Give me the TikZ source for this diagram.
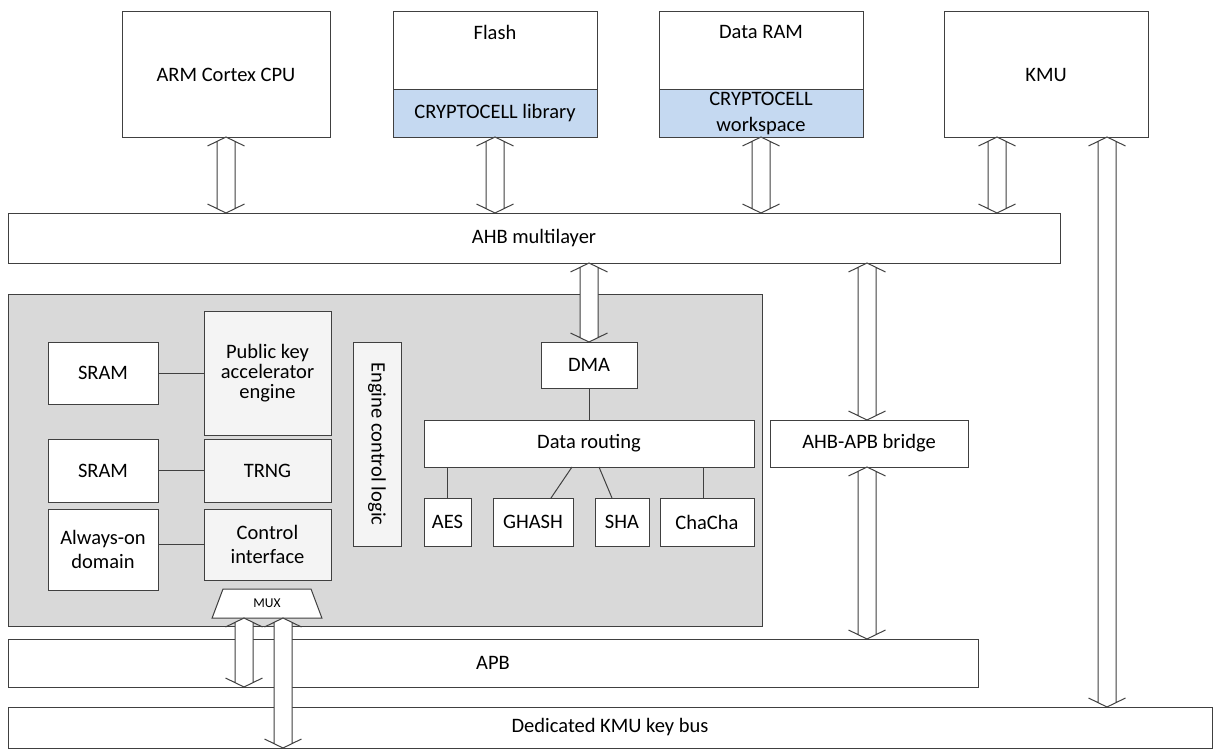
\documentclass[tikz,border=0pt]{standalone}
\usepackage{fontspec}
\setmainfont{Carlito}
\usetikzlibrary{shapes.geometric, calc}

\definecolor{cellblue}{HTML}{C5D9F1}
\definecolor{cellgray}{HTML}{D9D9D9}
\definecolor{enginefill}{HTML}{F4F4F4}
\definecolor{edge}{HTML}{404040}

% 空心双向总线箭头: #1 = x, #2 = 起点, #3 = 终点
\newcommand{\busarrow}[3]{%
  \fill[white] let \p1=(#1,0 |- #2), \p2=(#1,0 |- #3) in
    (\x1-9pt,\y1-4.4pt) -- (\x1,\y1) -- (\x1+9pt,\y1-4.4pt)
    -- (\x1+9pt,\y2+4.4pt) -- (\x1,\y2) -- (\x1-9pt,\y2+4.4pt) -- cycle;
  \draw[busline] let \p1=(#1,0 |- #2), \p2=(#1,0 |- #3) in
    (\x1-9pt,\y1-4.4pt) -- (\x1-9pt,\y2+4.4pt)
    (\x1+9pt,\y1-4.4pt) -- (\x1+9pt,\y2+4.4pt)
    (\x1-18.5pt,\y1-9pt) -- (\x1,\y1) -- (\x1+18.5pt,\y1-9pt)
    (\x1-18.5pt,\y2+9pt) -- (\x1,\y2) -- (\x1+18.5pt,\y2+9pt);
}

\begin{document}
\begin{tikzpicture}[x=1pt, y=-1pt, line width=1pt,
    font=\fontsize{20.5}{24.5}\selectfont,
    % 样式
    box/.style={draw=edge, fill=white, inner sep=0pt, outer sep=0pt, align=center},
    libbox/.style={box, fill=cellblue},
    engine/.style={box, fill=enginefill},
    busline/.style={draw=edge},
    wire/.style={draw=edge}
]
    \useasboundingbox (0,0) rectangle (1216,752);

    % ▼▼▼【顶部模块】▼▼▼
    \node[box, minimum width=208pt, minimum height=125pt] (cpu) at (226,74.5) {ARM Cortex CPU};
    \node[box, minimum width=204pt, minimum height=125pt,
          label={[anchor=north, inner sep=0pt, yshift=-13pt]north:Flash}] (flash) at (495,74.5) {};
    \node[libbox, anchor=south, minimum width=204pt, minimum height=47pt] (flashlib) at (flash.south) {CRYPTOCELL library};
    \node[box, minimum width=204pt, minimum height=125pt,
          label={[anchor=north, inner sep=0pt, yshift=-13pt]north:Data RAM}] (ram) at (761,74.5) {};
    \node[libbox, anchor=south, minimum width=204pt, minimum height=47pt,
          font=\fontsize{20.5}{25}\selectfont] (ramlib) at (ram.south) {CRYPTOCELL\\workspace};
    \node[box, minimum width=204pt, minimum height=125pt] (kmu) at (1046,74.5) {KMU};

    % ▼▼▼【总线】▼▼▼
    \node[box, minimum width=1052pt, minimum height=50pt] (ahb) at (534,238) {AHB multilayer};
    \node[box, minimum width=970pt, minimum height=48pt] (apb) at (493,663) {APB};
    \node[box, minimum width=1204pt, minimum height=41pt] (kmubus) at (610,727.5) {Dedicated KMU key bus};
    \node[box, minimum width=198pt, minimum height=47pt] (bridge) at (869,443.5) {AHB-APB bridge};

    % ▼▼▼【CryptoCell 内部】▼▼▼
    \node[box, fill=cellgray, minimum width=754pt, minimum height=332pt] (cc) at (385,460) {};

    \node[box, minimum width=110pt, minimum height=62pt] (sram1) at (103,373) {SRAM};
    \node[engine, minimum width=127pt, minimum height=124pt,
          font=\fontsize{20.5}{20}\selectfont] (pka) at (267.5,373) {Public key\\accelerator\\engine};
    \node[box, minimum width=110pt, minimum height=63pt] (sram2) at (103,470.5) {SRAM};
    \node[engine, minimum width=127pt, minimum height=63pt] (trng) at (267.5,470.5) {TRNG};
    \node[box, minimum width=110pt, minimum height=81pt] (aon) at (103,549.5) {Always-on\\domain};
    \node[engine, minimum width=127pt, minimum height=71pt] (ctrl) at (267.5,544.5) {Control\\interface};
    \node[box, trapezium, trapezium stretches=true, trapezium left angle=69, trapezium right angle=69,
          minimum width=110pt, minimum height=29pt, font=\fontsize{13.5}{14}\selectfont] (mux) at (267,603.5) {MUX};

    \node[engine, rotate=-90, minimum width=204pt, minimum height=48pt] (ecl) at (377,444) {Engine control logic};

    \node[box, minimum width=96pt, minimum height=46pt] (dma) at (589,365) {DMA};
    \node[box, minimum width=330pt, minimum height=47pt] (routing) at (589,443.5) {Data routing};
    \node[box, minimum width=47pt, minimum height=48pt] (aes) at (447.5,522) {AES};
    \node[box, minimum width=80pt, minimum height=48pt] (ghash) at (533,522) {GHASH};
    \node[box, minimum width=54pt, minimum height=48pt] (sha) at (622,522) {SHA};
    \node[box, minimum width=94pt, minimum height=48pt] (chacha) at (707,522) {ChaCha};

    % ▼▼▼【连线区】▼▼▼
    \draw[wire] (sram1) -- (sram1 -| pka.west);
    \draw[wire] (sram2) -- (sram2 -| trng.west);
    \draw[wire] (ctrl.west -| aon.east) -- (ctrl.west);
    \draw[wire] (dma) -- (routing);
    \draw[wire] (aes) -- (aes |- routing.south);
    \draw[wire] ([xshift=18pt]ghash.north) -- ([xshift=-17pt]routing.south);
    \draw[wire] ([xshift=-10pt]sha.north) -- ([xshift=10pt]routing.south);
    \draw[wire] ([xshift=-4pt]chacha.north) -- ([xshift=-4pt]chacha.north |- routing.south);

    % 总线箭头
    \busarrow{226}{cpu.south}{ahb.north}
    \busarrow{495}{flash.south}{ahb.north}
    \busarrow{761}{ram.south}{ahb.north}
    \busarrow{997}{kmu.south}{ahb.north}
    \busarrow{1107}{kmu.south}{kmubus.north}
    \busarrow{589}{ahb.south}{dma.north}
    \busarrow{867}{ahb.south}{bridge.north}
    \busarrow{867}{bridge.south}{apb.north}
    \busarrow{244}{mux.south}{apb.south}
    \busarrow{283}{mux.south}{kmubus.south}

\end{tikzpicture}
\end{document}
